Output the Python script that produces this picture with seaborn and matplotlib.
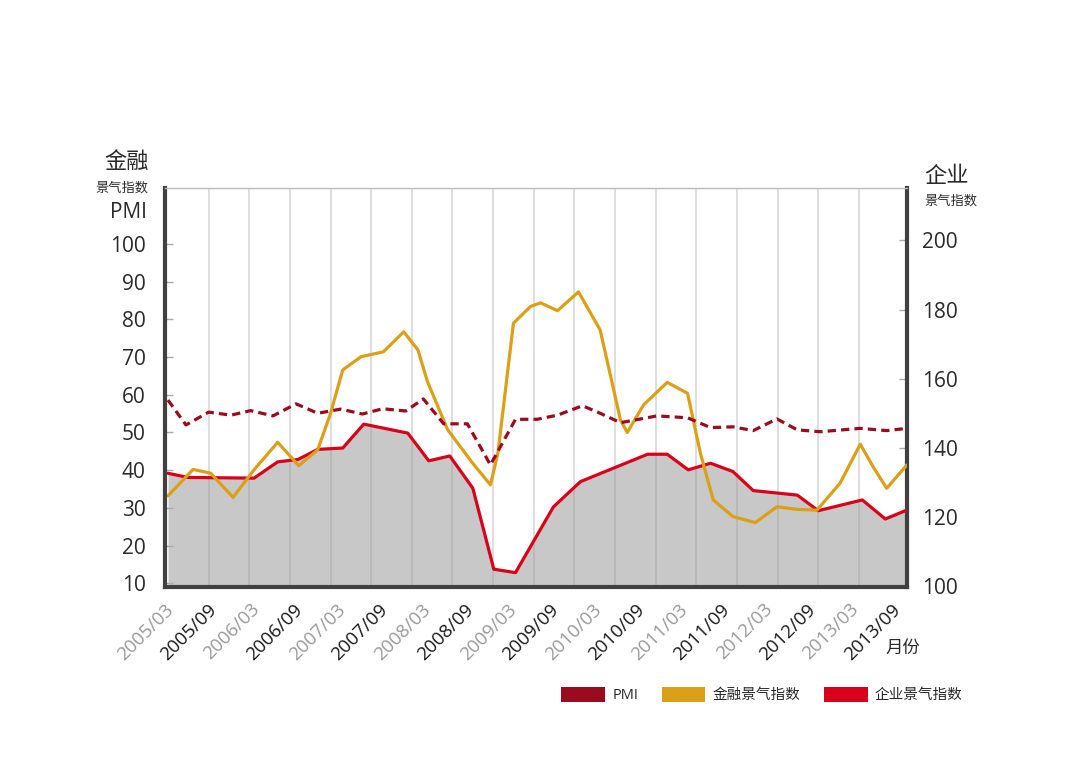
import matplotlib
matplotlib.use("Agg")
import matplotlib.pyplot as plt
import seaborn as sns
import numpy as np
import pandas as pd
from matplotlib.patches import Patch

# ---------------- data (x = months since 2005/03) ----------------
x_labels = ["2005/03", "2005/09", "2006/03", "2006/09", "2007/03", "2007/09",
            "2008/03", "2008/09", "2009/03", "2009/09", "2010/03", "2010/09",
            "2011/03", "2011/09", "2012/03", "2012/09", "2013/03", "2013/09"]

pmi_month = [0, 2.65, 6.0, 9.3, 12.2, 15.5, 18.9, 22.1, 25.5, 28.7, 31.7, 35.1,
             37.7, 40.7, 44.2, 47.6, 51.3, 54.5, 57.5, 61.2, 63.8, 66.8, 72.2,
             76.7, 80.1, 83.4, 86.4, 89.9, 92.9, 96.3, 102.2, 106.1, 109.1]
pmi_value = [58.6, 52.0, 55.4, 54.6, 55.8, 54.4, 57.6, 55.1, 56.2, 54.9, 56.3, 55.7,
             58.9, 52.3, 52.3, 41.4, 53.5, 53.5, 54.6, 57.1, 55.1, 52.6, 54.4,
             53.9, 51.3, 51.5, 50.5, 53.6, 50.7, 50.2, 51.1, 50.5, 51.1]

fin_month = [0, 3.7, 6.3, 9.6, 12.7, 16.2, 19.3, 22.1, 24.0, 25.8, 28.5, 31.8,
             34.8, 36.9, 38.3, 41.3, 45.0, 47.6, 48.7, 51.0, 53.5, 55.0, 57.5,
             60.6, 63.8, 66.8, 67.8, 70.2, 73.7, 76.7, 78.6, 80.5, 83.4, 86.7,
             89.9, 92.9, 95.8, 99.2, 102.2, 104.1, 106.1, 109.1]
fin_value = [33.2, 40.2, 39.2, 32.8, 40.1, 47.4, 41.2, 45.4, 55.1, 66.6, 70.1, 71.4,
             76.7, 71.9, 63.5, 50.7, 41.8, 36.1, 44.5, 79.0, 83.4, 84.4, 82.3,
             87.3, 77.2, 53.3, 50.0, 57.3, 63.3, 60.4, 44.5, 32.1, 27.7, 26.1,
             30.3, 29.6, 29.4, 36.5, 46.9, 40.9, 35.2, 41.4]

ent_month = [0, 2.95, 12.7, 16.2, 19.2, 22.1, 25.8, 28.9, 35.4, 38.5, 41.6, 45.0,
             48.1, 51.3, 56.9, 60.9, 70.8, 73.7, 76.8, 80.1, 83.4, 86.4, 92.9,
             96.0, 102.5, 105.9, 109.1]
ent_value = [132.7, 131.5, 131.3, 136.0, 136.7, 139.6, 140.0, 146.9, 144.3, 136.3,
             137.7, 128.4, 105.0, 104.0, 123.0, 130.3, 138.2, 138.2, 133.7, 135.6,
             133.2, 127.7, 126.4, 121.9, 125.0, 119.5, 122.1]

left_ticks = [10, 20, 30, 40, 50, 60, 70, 80, 90, 100]
right_ticks = [100, 120, 140, 160, 180, 200]

# ---------------- style ----------------
sns.set_theme(style="white")
plt.rcParams["font.family"] = ["Open Sans", "Noto Sans CJK SC", "DejaVu Sans"]

C_PMI = "#9a0b1e"
C_FIN = "#dc9f18"
C_ENT = "#d8001a"
C_SPINE = "#404040"
C_TXT = "#2a2a2a"

W, H = 1092, 773
fig = plt.figure(figsize=(W / 100, H / 100), dpi=100)
ax = fig.add_axes([165 / W, 1 - 586.5 / H, (907 - 165) / W, (586.5 - 188) / H])
ax2 = ax.twinx()
ax.set_zorder(2)
ax2.set_zorder(1)
ax.patch.set_visible(False)

# enterprise index (right axis) with grey area
df_ent = pd.DataFrame({"month": ent_month, "value": ent_value})
ax2.fill_between(df_ent["month"], df_ent["value"], 100, color="#c8c8c8", lw=0, zorder=1)
for m in range(6, 103, 6):
    ax2.axvline(m, color="#999999", alpha=0.35, lw=1.3, zorder=1.5)
sns.lineplot(data=df_ent, x="month", y="value", ax=ax2, color=C_ENT, lw=2.3,
             zorder=3, sort=False)

# PMI and financial index (left axis)
df_pmi = pd.DataFrame({"month": pmi_month, "value": pmi_value})
df_fin = pd.DataFrame({"month": fin_month, "value": fin_value})
sns.lineplot(data=df_fin, x="month", y="value", ax=ax, color=C_FIN, lw=2.3, sort=False)
sns.lineplot(data=df_pmi, x="month", y="value", ax=ax, color=C_PMI, lw=2.3,
             linestyle=(0, (2.6, 1.6)), sort=False)

xlim = (-0.3, 109.1)
ax.set_xlim(*xlim)
ax.set_ylim(9.15, 114.85)
ax2.set_ylim(100, 215.1)

ax.set_xlabel("")
ax.set_ylabel("")
ax2.set_xlabel("")
ax2.set_ylabel("")

ax.set_yticks(left_ticks)
ax.set_yticklabels([str(v) for v in left_ticks])
ax2.set_yticks(right_ticks)
ax2.set_yticklabels([str(v) for v in right_ticks])
ax.tick_params(axis="y", direction="in", length=6, width=1, color="#aaaaaa",
               labelsize=15, labelcolor=C_TXT, pad=14, left=True)
ax2.tick_params(axis="y", direction="in", length=6, width=1, color="#aaaaaa",
                labelsize=15, labelcolor=C_TXT, pad=11, right=True)

tick_pos = np.linspace((164 - 167) / 6.783, (892 - 167) / 6.783, len(x_labels))
ax.set_xticks(tick_pos)
ax.set_xticklabels(x_labels)
ax.tick_params(axis="x", length=0, pad=10, labelsize=13.5, bottom=True)
ax2.tick_params(axis="x", length=0, labelbottom=False)
for i, lab in enumerate(ax.get_xticklabels()):
    lab.set_rotation(45)
    lab.set_ha("right")
    lab.set_va("top")
    lab.set_rotation_mode("anchor")
    lab.set_color("#9a9a9a" if i % 2 == 0 else "#1a1a1a")
ax.grid(False)
ax2.grid(False)

# spines
for a in (ax, ax2):
    for s in a.spines.values():
        s.set_visible(False)
ax.spines["left"].set_visible(True)
ax.spines["left"].set_color(C_SPINE)
ax.spines["left"].set_linewidth(3)
ax.spines["bottom"].set_visible(True)
ax.spines["bottom"].set_color(C_SPINE)
ax.spines["bottom"].set_linewidth(3)
ax.spines["top"].set_visible(True)
ax.spines["top"].set_color("#bbbbbb")
ax.spines["top"].set_linewidth(1)
ax2.spines["right"].set_visible(True)
ax2.spines["right"].set_color(C_SPINE)
ax2.spines["right"].set_linewidth(3)

# axis titles
fig.text(127 / W, 1 - 162 / H, "金融", ha="center", va="center", fontsize=16, color=C_TXT)
fig.text(122 / W, 1 - 188 / H, "景气指数", ha="center", va="center", fontsize=9.5, color=C_TXT)
fig.text(147 / W, 1 - 212 / H, "PMI", ha="right", va="center", fontsize=15, color=C_TXT)
fig.text(924 / W, 1 - 177 / H, "企业", ha="left", va="center", fontsize=16, color=C_TXT)
fig.text(924 / W, 1 - 201 / H, "景气指数", ha="left", va="center", fontsize=9.5, color=C_TXT)
fig.text(903 / W, 1 - 649 / H, "月份", ha="center", va="center", fontsize=12.5, color=C_TXT)

# legend
handles = [Patch(facecolor=C_PMI, edgecolor="none"),
           Patch(facecolor=C_FIN, edgecolor="none"),
           Patch(facecolor=C_ENT, edgecolor="none")]
fig.legend(handles, ["PMI", "金融景气指数", "企业景气指数"], loc="center",
           bbox_to_anchor=(762 / W, 1 - 695 / H), ncol=3, frameon=False,
           fontsize=10.5, labelcolor=C_TXT, handlelength=3.0, handleheight=1.2,
           handletextpad=0.5, columnspacing=1.6)

fig.savefig("out.png", dpi=100, facecolor="white")
